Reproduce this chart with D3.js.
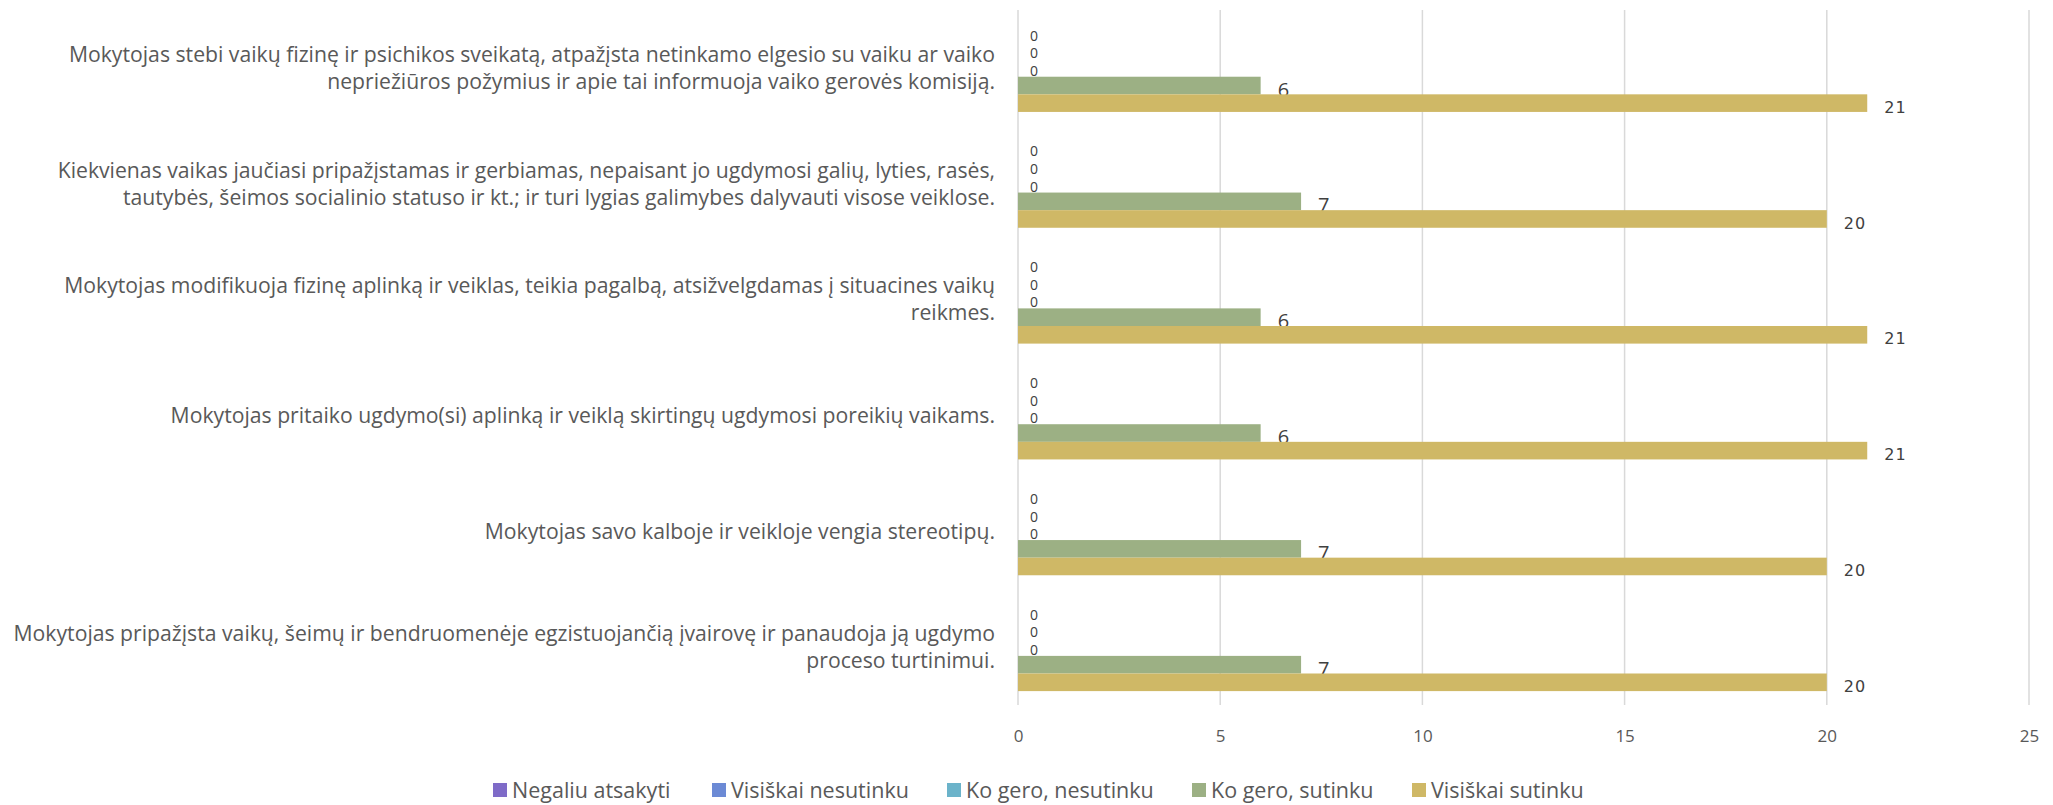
<!DOCTYPE html>
<html><head><meta charset="utf-8">
<script src="https://cdn.jsdelivr.net/npm/d3@7"></script>
<style>body{margin:0;background:#fff;} svg{display:block;}</style>
</head><body>
<svg id="c" width="2053" height="805"></svg>
<script>
const categories = [
  ["Mokytojas stebi vaikų fizinę ir psichikos sveikatą, atpažįsta netinkamo elgesio su vaiku ar vaiko", "nepriežiūros požymius ir apie tai informuoja vaiko gerovės komisiją."],
  ["Kiekvienas vaikas jaučiasi pripažįstamas ir gerbiamas, nepaisant jo ugdymosi galių, lyties, rasės,", "tautybės, šeimos socialinio statuso ir kt.; ir turi lygias galimybes dalyvauti visose veiklose."],
  ["Mokytojas modifikuoja fizinę aplinką ir veiklas, teikia pagalbą, atsižvelgdamas į situacines vaikų", "reikmes."],
  ["Mokytojas pritaiko ugdymo(si) aplinką ir veiklą skirtingų ugdymosi poreikių vaikams."],
  ["Mokytojas savo kalboje ir veikloje vengia stereotipų."],
  ["Mokytojas pripažįsta vaikų, šeimų ir bendruomenėje egzistuojančią įvairovę ir panaudoja ją ugdymo", "proceso turtinimui."]
];
const seriesNames = ["Negaliu atsakyti", "Visiškai nesutinku", "Ko gero, nesutinku", "Ko gero, sutinku", "Visiškai sutinku"];
const seriesColors = ["#7f6bc8", "#6c8ad5", "#6bb3ca", "#9cb084", "#cfb866"];
const negaliu = [0, 0, 0, 0, 0, 0];
const visiskaiNesutinku = [0, 0, 0, 0, 0, 0];
const koGeroNesutinku = [0, 0, 0, 0, 0, 0];
const koGeroSutinku = [6, 7, 6, 6, 7, 7];
const visiskaiSutinku = [21, 20, 21, 21, 20, 20];
const xTicks = [0, 5, 10, 15, 20, 25];

(function () {
const values = [negaliu, visiskaiNesutinku, koGeroNesutinku, koGeroSutinku, visiskaiSutinku];
const labelFont = "'Open Sans', sans-serif";

const svg = d3.select("#c");
const pLeft = 1018, pRight = 2029, pTop = 10, pBottom = 705;
const x = d3.scaleLinear().domain([0, 25]).range([pLeft, pRight]);
const y = d3.scaleBand().domain(d3.range(categories.length)).range([pTop, pBottom]).paddingInner(0.24).paddingOuter(0.12);
const ys = d3.scaleBand().domain(d3.range(seriesNames.length)).range([0, y.bandwidth()]);

// gridlines
svg.append("g").selectAll("line").data(xTicks).join("line")
  .attr("x1", d => x(d)).attr("x2", d => x(d))
  .attr("y1", pTop).attr("y2", pBottom)
  .attr("stroke", "#d9d9d9").attr("stroke-width", 1.5);

// x axis labels
const xAxis = d3.axisBottom(x).tickValues(xTicks).tickSize(0).tickPadding(0);
const gx = svg.append("g").attr("transform", `translate(0,${pBottom + 25})`).call(xAxis);
gx.select(".domain").remove();
gx.selectAll("text").attr("font-family", labelFont).attr("font-size", 17).attr("fill", "#595959");

// bars
const groups = svg.append("g").selectAll("g").data(categories).join("g")
  .attr("transform", (d, i) => `translate(0,${y(i)})`);

seriesNames.forEach((s, si) => {
  groups.append("rect")
    .attr("x", x(0))
    .attr("y", ys(si))
    .attr("width", (d, i) => x(values[si][i]) - x(0))
    .attr("height", ys.bandwidth())
    .attr("fill", seriesColors[si]);
  groups.append("text")
    .attr("x", (d, i) => x(values[si][i]) + (values[si][i] === 0 ? 12 : 17))
    .attr("y", (d, i) => ys(si) + ys.bandwidth() / 2 + (values[si][i] === 0 ? 3 : 4))
    .attr("dy", "0.35em")
    .attr("font-family", si === 4 ? "'DejaVu Sans', sans-serif" : labelFont)
    .attr("font-size", (d, i) => si === 4 ? 16 : (values[si][i] === 0 ? 14 : 20))
    .attr("letter-spacing", si === 4 ? 1 : 0)
    .attr("fill", "#404040")
    .text((d, i) => values[si][i]);
});

// category labels
groups.each(function(lines, i) {
  const g = d3.select(this);
  const cy = y.bandwidth() / 2;
  const lh = 27;
  lines.forEach((line, li) => {
    g.append("text")
      .attr("x", 995)
      .attr("y", cy + (li - (lines.length - 1) / 2) * lh)
      .attr("dy", "0.35em")
      .attr("text-anchor", "end")
      .attr("font-family", labelFont)
      .attr("font-size", 21.2)
      .attr("fill", "#595959")
      .text(line);
  });
});

// legend
const legendX = [493, 712, 947, 1192, 1412];
const lg = svg.append("g").selectAll("g").data(seriesNames).join("g")
  .attr("transform", (d, i) => `translate(${legendX[i]},790)`);
lg.append("rect").attr("x", 0).attr("y", -7).attr("width", 14).attr("height", 14)
  .attr("fill", (d, i) => seriesColors[i]);
lg.append("text").attr("x", 19).attr("dy", "0.35em")
  .attr("font-family", labelFont).attr("font-size", 21.5).attr("fill", "#595959")
  .text(d => d);
})();
</script>
</body></html>
